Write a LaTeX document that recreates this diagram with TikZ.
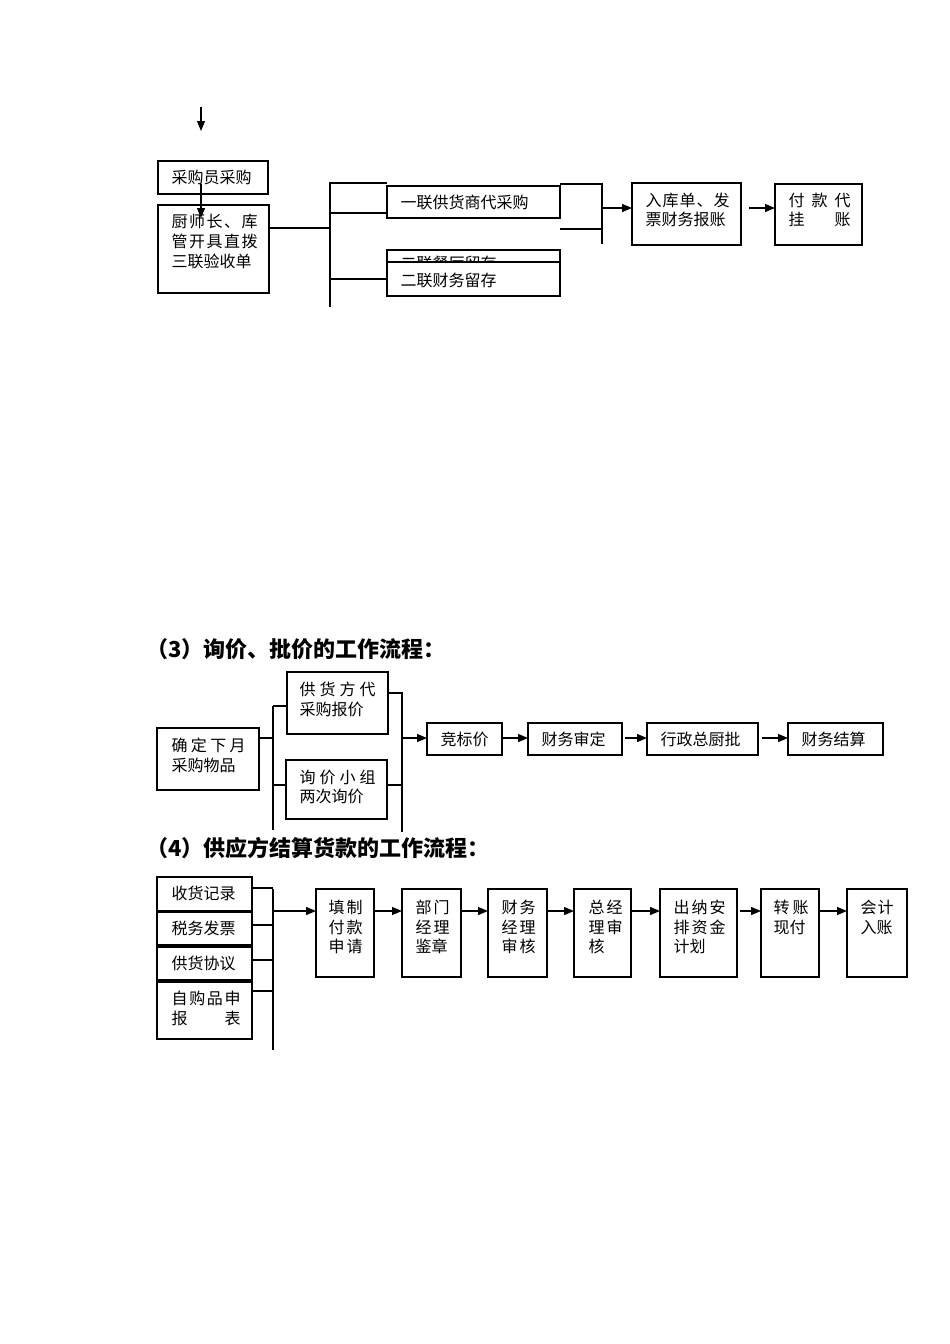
\documentclass[tikz,border=0pt]{standalone}
\usepackage{fontspec}
\setmainfont{Noto Sans CJK SC}
\usetikzlibrary{arrows.meta}
\newcommand\bx[6][]{\node[box,#1,minimum width={#5-#3},minimum height={#6-#4}] (#2) at ({(#3+#5)/2},{(#4+#6)/2}) {};}
\newcommand\tx[4]{\node[txt] (#1) at (#2,#3) {#4};}
\newcommand\jt[5]{\node[txt] (#1) at (#2,#3) {\makebox[#4pt][s]{#5}};}
\begin{document}
\begin{tikzpicture}[x=1pt,y=-1pt,line width=1.2pt,
  box/.style={draw,line width=1.2pt,inner sep=0pt,outer sep=0pt},
  txt/.style={font=\fontsize{16}{20}\selectfont,inner sep=0pt,anchor=base west},
  head/.style={font=\fontsize{22}{26}\selectfont\bfseries,inner sep=0pt,anchor=base west},
  arr/.style={-{Triangle[length=10pt,width=8pt]}}]
\useasboundingbox[fill=white] (0,0) rectangle (950,1344);

% ---------- section 1 ----------
\bx{b1}{158}{161}{268}{194}
\bx{b2}{158}{205}{269}{293}
\bx{b3}{387}{186}{560}{218}
\bx{b4}{387}{250}{560}{284}
\tx{td}{400}{269}{二联餐厅留存}
\bx[fill=white]{b5}{387}{262}{560}{296}
\bx{b6}{632}{183}{741}{245}
\bx{b7}{775}{184}{862}{245}

\tx{ta}{171}{183}{采购员采购}
\jt{tb1}{171}{227}{86}{厨\hfill 师\hfill 长\hfill 、\hfill 库}
\jt{tb2}{171}{247}{86}{管\hfill 开\hfill 具\hfill 直\hfill 拨}
\tx{tb3}{171}{267}{三联验收单}
\tx{tc}{400}{208}{一联供货商代采购}
\tx{te}{400}{286}{二联财务留存}
\jt{tf1}{645}{206}{84}{入\hfill 库\hfill 单\hfill 、\hfill 发}
\tx{tf2}{645}{225}{票财务报账}
\jt{tg1}{788}{206}{62}{付\hfill 款\hfill 代}
\jt{tg2}{788}{225}{62}{挂\hfill 账}

\coordinate (a0) at (201,107); \coordinate (a0e) at (201,131);
\draw[arr] (a0) -- (a0e);
\coordinate (a1) at (201,184); \coordinate (a1e) at (201,218);
\draw[arr] (a1) -- (a1e);

\coordinate (L1) at (330,183); \coordinate (L1b) at (330,307);
\coordinate (L1t) at (387,183);
\draw (L1t) -- (L1) -- (L1b);
\coordinate (L1m) at (330,228);
\draw (b2.east |- L1m) -- (L1m);
\coordinate (L1a) at (330,213);
\draw (L1a) -- (b3.west |- L1a);
\coordinate (L1c) at (330,279);
\draw (L1c) -- (b5.west |- L1c);

\coordinate (R1) at (602,184); \coordinate (R1b) at (602,244);
\draw (b3.east |- R1) -- (R1) -- (R1b);
\coordinate (R1c) at (602,229);
\draw (b3.east |- R1c) -- (R1c);
\coordinate (R1m) at (602,208);
\draw[arr] (R1m) -- (b6.west |- R1m);
\coordinate (R2) at (749,208);
\draw[arr] (R2) -- (b7.west |- R2);

% ---------- section 3 ----------
\node[head] (h3) at (146,657) {（3）询价、批价的工作流程：};
\bx{c1}{157}{728}{259}{790}
\bx{c2}{287}{672}{388}{734}
\bx{c3}{286}{760}{387}{819}
\bx{c4}{427}{723}{502}{755}
\bx{c5}{528}{723}{622}{755}
\bx{c6}{647}{723}{758}{755}
\bx{c7}{788}{723}{883}{755}

\jt{th1}{171}{751}{74}{确\hfill 定\hfill 下\hfill 月}
\tx{th2}{171}{771}{采购物品}
\jt{ti1}{299}{695}{76}{供\hfill 货\hfill 方\hfill 代}
\tx{ti2}{299}{715}{采购报价}
\jt{tj1}{299}{783}{76}{询\hfill 价\hfill 小\hfill 组}
\tx{tj2}{299}{802}{两次询价}
\tx{tk}{440}{745}{竞标价}
\tx{tl}{541}{745}{财务审定}
\tx{tm}{660}{745}{行政总厨批}
\tx{tn}{801}{745}{财务结算}

\coordinate (P1) at (273,706); \coordinate (P1b) at (273,830);
\coordinate (P1m) at (273,738); \coordinate (P1c) at (273,785);
\draw (c1.east |- P1m) -- (P1m);
\draw (P1) -- (P1b);
\draw (P1) -- (c2.west |- P1);
\draw (P1c) -- (c3.west |- P1c);
\coordinate (Q1) at (402,693); \coordinate (Q1b) at (402,832);
\coordinate (Q1m) at (402,738); \coordinate (Q1c) at (402,785);
\draw (c2.east |- Q1) -- (Q1) -- (Q1b);
\draw (c3.east |- Q1c) -- (Q1c);
\draw[arr] (Q1m) -- (c4.west |- Q1m);
\draw[arr] (c4.east |- Q1m) -- (c5.west |- Q1m);
\coordinate (S1) at (625,738);
\draw[arr] (S1) -- (c6.west |- S1);
\coordinate (S2) at (762,738);
\draw[arr] (S2) -- (c7.west |- S2);

% ---------- section 4 ----------
\node[head] (h4) at (146,856) {（4）供应方结算货款的工作流程：};
\bx{d1}{157}{877}{252}{911}
\bx{d2}{157}{912}{252}{945}
\bx{d3}{157}{947}{252}{980}
\bx{d4}{157}{982}{252}{1039}
\bx{e1}{316}{889}{374}{977}
\bx{e2}{402}{889}{461}{977}
\bx{e3}{488}{889}{547}{977}
\bx{e4}{574}{889}{631}{977}
\bx{e5}{660}{889}{737}{977}
\bx{e6}{761}{889}{819}{977}
\bx{e7}{847}{889}{907}{977}

\tx{to}{171}{899}{收货记录}
\tx{tp}{171}{934}{税务发票}
\tx{tq}{171}{969}{供货协议}
\jt{tr1}{171}{1004}{69}{自\hfill 购\hfill 品\hfill 申}
\jt{tr2}{171}{1024}{69}{报\hfill 表}

\jt{u11}{328}{913}{34}{填\hfill 制}
\jt{u12}{328}{933}{34}{付\hfill 款}
\jt{u13}{328}{952}{34}{申\hfill 请}
\jt{u21}{415}{913}{34}{部\hfill 门}
\jt{u22}{415}{933}{34}{经\hfill 理}
\tx{u23}{415}{952}{鉴章}
\jt{u31}{501}{913}{34}{财\hfill 务}
\jt{u32}{501}{933}{34}{经\hfill 理}
\jt{u33}{501}{952}{34}{审\hfill 核}
\jt{u41}{588}{913}{34}{总\hfill 经}
\jt{u42}{588}{933}{34}{理\hfill 审}
\tx{u43}{588}{952}{核}
\jt{u51}{673}{913}{52}{出\hfill 纳\hfill 安}
\jt{u52}{673}{933}{52}{排\hfill 资\hfill 金}
\tx{u53}{673}{952}{计划}
\jt{u61}{773}{913}{35}{转\hfill 账}
\tx{u62}{773}{933}{现付}
\jt{u71}{860}{913}{33}{会\hfill 计}
\tx{u72}{860}{933}{入账}

\coordinate (V1) at (273,889); \coordinate (V1b) at (273,1050);
\draw (V1) -- (V1b);
\coordinate (W1) at (273,888); \coordinate (W2) at (273,925);
\coordinate (W3) at (273,960); \coordinate (W4) at (273,991);
\draw (d1.east |- W1) -- (W1);
\draw (d2.east |- W2) -- (W2);
\draw (d3.east |- W3) -- (W3);
\draw (d4.east |- W4) -- (W4);
\coordinate (V1m) at (273,911);
\draw[arr] (V1m) -- (e1.west |- V1m);
\draw[arr] (e1.east |- V1m) -- (e2.west |- V1m);
\draw[arr] (e2.east |- V1m) -- (e3.west |- V1m);
\draw[arr] (e3.east |- V1m) -- (e4.west |- V1m);
\draw[arr] (e4.east |- V1m) -- (e5.west |- V1m);
\coordinate (V5) at (740,911);
\draw[arr] (V5) -- (e6.west |- V5);
\draw[arr] (e6.east |- V1m) -- (e7.west |- V1m);
\end{tikzpicture}
\end{document}
